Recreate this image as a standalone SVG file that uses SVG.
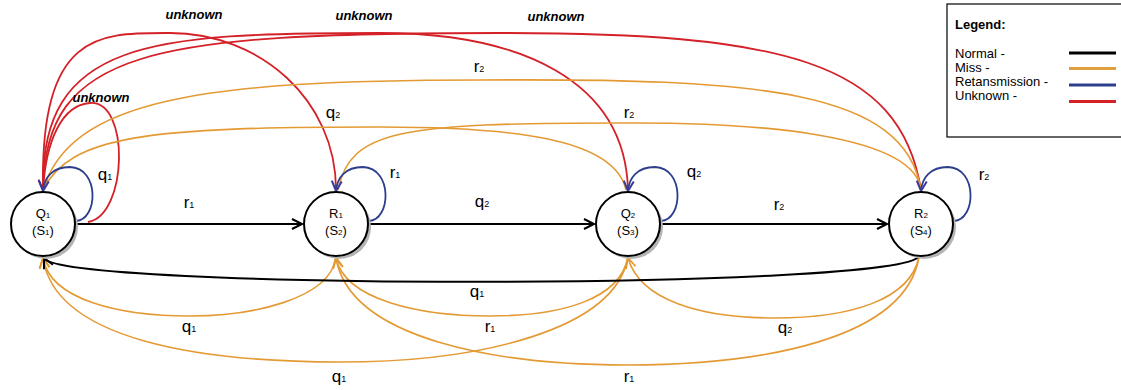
<svg xmlns="http://www.w3.org/2000/svg" width="1121" height="390" viewBox="0 0 1121 390">
<defs>
<style>
.k{fill:none;stroke:#000;stroke-width:2}
.o{fill:none;stroke:#E49A34;stroke-width:1.6}
.b{fill:none;stroke:#2C3E8C;stroke-width:1.8}
.r{fill:none;stroke:#D42027;stroke-width:1.8}
.lbl{font-family:"Liberation Sans",Arial,sans-serif;font-size:17px;fill:#000;text-anchor:middle}
.sub{font-size:9px}
.unk{font-family:"Liberation Sans",Arial,sans-serif;font-size:13px;font-weight:bold;font-style:italic;fill:#000;text-anchor:middle}
.n{fill:#fff;stroke:#000;stroke-width:2}
.s{fill:#b5b5b5}
.nt{font-family:"Liberation Sans",Arial,sans-serif;font-size:13px;fill:#000;text-anchor:middle}
.nsub{font-size:8px}
.leg{font-family:"Liberation Sans",Arial,sans-serif;font-size:13px;fill:#000}
</style>
<marker id="ak" markerUnits="userSpaceOnUse" markerWidth="14" markerHeight="14" refX="11" refY="6" orient="auto"><path d="M1,1 L11,6 L1,11" fill="none" stroke="#000" stroke-width="2"/></marker>
<marker id="ab" markerUnits="userSpaceOnUse" markerWidth="14" markerHeight="14" refX="11" refY="6" orient="auto"><path d="M1,1 L11,6 L1,11" fill="none" stroke="#3A3A9A" stroke-width="2"/></marker>
<marker id="ar" markerUnits="userSpaceOnUse" markerWidth="14" markerHeight="14" refX="11" refY="6" orient="auto"><path d="M1,1 L11,6 L1,11" fill="none" stroke="#7A2C8A" stroke-width="2"/></marker>
<marker id="ao" markerUnits="userSpaceOnUse" markerWidth="14" markerHeight="14" refX="11" refY="6" orient="auto"><path d="M1,1 L11,6 L1,11" fill="none" stroke="#E49A34" stroke-width="1.8"/></marker>
</defs>
<rect width="1121" height="390" fill="#fff"/>

<g id="connectors">
  <!-- unknown (red) -->
  <path class="r" d="M336,190 C336,100 260,33 170,33 C100,33 40,30 43,190"/>
  <path class="r" d="M628,190 C625,80 520,33 380,33 C150,33 40,40 43,190"/>
  <path class="r" d="M921,190 C900,60 780,33 500,33 C150,33 45,50 43,190"/>
  <path class="r" d="M88,222 C128,215 130,100 90,103 C62,105 46,140 43,190" marker-end="url(#ar)"/>
  <!-- miss (orange) top -->
  <path class="o" d="M43,190 C70,100 200,80 480,80 C760,78 905,90 921,190"/>
  <path class="o" d="M43,190 C70,135 150,127 380,127 C520,127 615,140 626,190"/>
  <path class="o" d="M338,190 C350,130 400,123 620,123 C760,122 915,135 921,190"/>
  <!-- miss (orange) bottom -->
  <path class="o" d="M336,257 C330,300 250,316 190,316 C120,316 50,300 43,258" marker-end="url(#ao)"/>
  <path class="o" d="M628,257 C615,330 480,362 340,362 C200,362 55,340 43,258" marker-end="url(#ao)"/>
  <path class="o" d="M628,257 C620,300 560,316 490,316 C420,316 345,300 336,258" marker-end="url(#ao)"/>
  <path class="o" d="M919,257 C905,340 760,365 627,365 C500,365 350,340 336,258" marker-end="url(#ao)"/>
  <path class="o" d="M919,257 C910,300 850,318 775,318 C700,318 640,300 628,258" marker-end="url(#ao)"/>
  <!-- retransmission (blue) self loops -->
  <path class="b" d="M76,221 C98,220 100,168 70,167 C52,167 44,178 43,191" marker-end="url(#ab)"/>
  <path class="b" d="M369,221 C391,220 393,168 363,167 C345,167 337,178 336,191" marker-end="url(#ab)"/>
  <path class="b" d="M661,221 C683,220 685,168 655,167 C637,167 629,178 628,191" marker-end="url(#ab)"/>
  <path class="b" d="M954,221 C976,220 978,168 948,167 C930,167 922,178 921,191" marker-end="url(#ab)"/>
  <!-- normal (black) -->
  <path class="k" d="M76,224 L302,224" marker-end="url(#ak)"/>
  <path class="k" d="M369,224 L594,224" marker-end="url(#ak)"/>
  <path class="k" d="M661,224 L887,224" marker-end="url(#ak)"/>
  <path class="k" d="M919,256 C905,290 60,290 44,258" marker-end="url(#ak)"/>

  <!-- labels -->
  <text class="unk" x="194" y="19">unknown</text>
  <text class="unk" x="364" y="20">unknown</text>
  <text class="unk" x="556" y="21">unknown</text>
  <text class="unk" x="101" y="102">unknown</text>
  <text class="lbl" x="189" y="208">r<tspan class="sub">1</tspan></text>
  <text class="lbl" x="105" y="180">q<tspan class="sub">1</tspan></text>
  <text class="lbl" x="482" y="207">q<tspan class="sub">2</tspan></text>
  <text class="lbl" x="395" y="178">r<tspan class="sub">1</tspan></text>
  <text class="lbl" x="333" y="118">q<tspan class="sub">2</tspan></text>
  <text class="lbl" x="479" y="72">r<tspan class="sub">2</tspan></text>
  <text class="lbl" x="629" y="118">r<tspan class="sub">2</tspan></text>
  <text class="lbl" x="694" y="177">q<tspan class="sub">2</tspan></text>
  <text class="lbl" x="779" y="210">r<tspan class="sub">2</tspan></text>
  <text class="lbl" x="984" y="180">r<tspan class="sub">2</tspan></text>
  <text class="lbl" x="477" y="297">q<tspan class="sub">1</tspan></text>
  <text class="lbl" x="189" y="332">q<tspan class="sub">1</tspan></text>
  <text class="lbl" x="490" y="332">r<tspan class="sub">1</tspan></text>
  <text class="lbl" x="785" y="333">q<tspan class="sub">2</tspan></text>
  <text class="lbl" x="339" y="382">q<tspan class="sub">1</tspan></text>
  <text class="lbl" x="629" y="382">r<tspan class="sub">1</tspan></text>
</g>

<g id="node-Q1">
  <circle class="s" cx="46" cy="227" r="32"/>
  <circle class="n" cx="43" cy="224" r="32"/>
  <text class="nt" x="43" y="218">Q<tspan class="nsub">1</tspan></text>
  <text class="nt" x="43" y="235">(S<tspan class="nsub">1</tspan>)</text>
</g>
<g id="node-R1">
  <circle class="s" cx="339" cy="227" r="32"/>
  <circle class="n" cx="336" cy="224" r="32"/>
  <text class="nt" x="336" y="218">R<tspan class="nsub">1</tspan></text>
  <text class="nt" x="336" y="235">(S<tspan class="nsub">2</tspan>)</text>
</g>
<g id="node-Q2">
  <circle class="s" cx="631" cy="227" r="32"/>
  <circle class="n" cx="628" cy="224" r="32"/>
  <text class="nt" x="628" y="218">Q<tspan class="nsub">2</tspan></text>
  <text class="nt" x="628" y="235">(S<tspan class="nsub">3</tspan>)</text>
</g>
<g id="node-R2">
  <circle class="s" cx="924" cy="227" r="32"/>
  <circle class="n" cx="921" cy="224" r="32"/>
  <text class="nt" x="921" y="218">R<tspan class="nsub">2</tspan></text>
  <text class="nt" x="921" y="235">(S<tspan class="nsub">4</tspan>)</text>
</g>

<g id="legend">
  <rect x="947" y="4" width="180" height="133" fill="#fff" stroke="#000" stroke-width="1.2"/>
  <text class="leg" x="955" y="29" font-weight="bold">Legend:</text>
  <text class="leg" x="955" y="58">Normal -</text>
  <text class="leg" x="955" y="72">Miss -</text>
  <text class="leg" x="955" y="86">Retansmission -</text>
  <text class="leg" x="955" y="100">Unknown -</text>
  <line x1="1069" y1="53" x2="1116" y2="53" stroke="#000" stroke-width="3"/>
  <line x1="1069" y1="68.5" x2="1116" y2="68.5" stroke="#E0A040" stroke-width="3"/>
  <line x1="1069" y1="85" x2="1116" y2="85" stroke="#2C3E8C" stroke-width="3"/>
  <line x1="1069" y1="101.5" x2="1116" y2="101.5" stroke="#D42027" stroke-width="3"/>
</g>
</svg>
